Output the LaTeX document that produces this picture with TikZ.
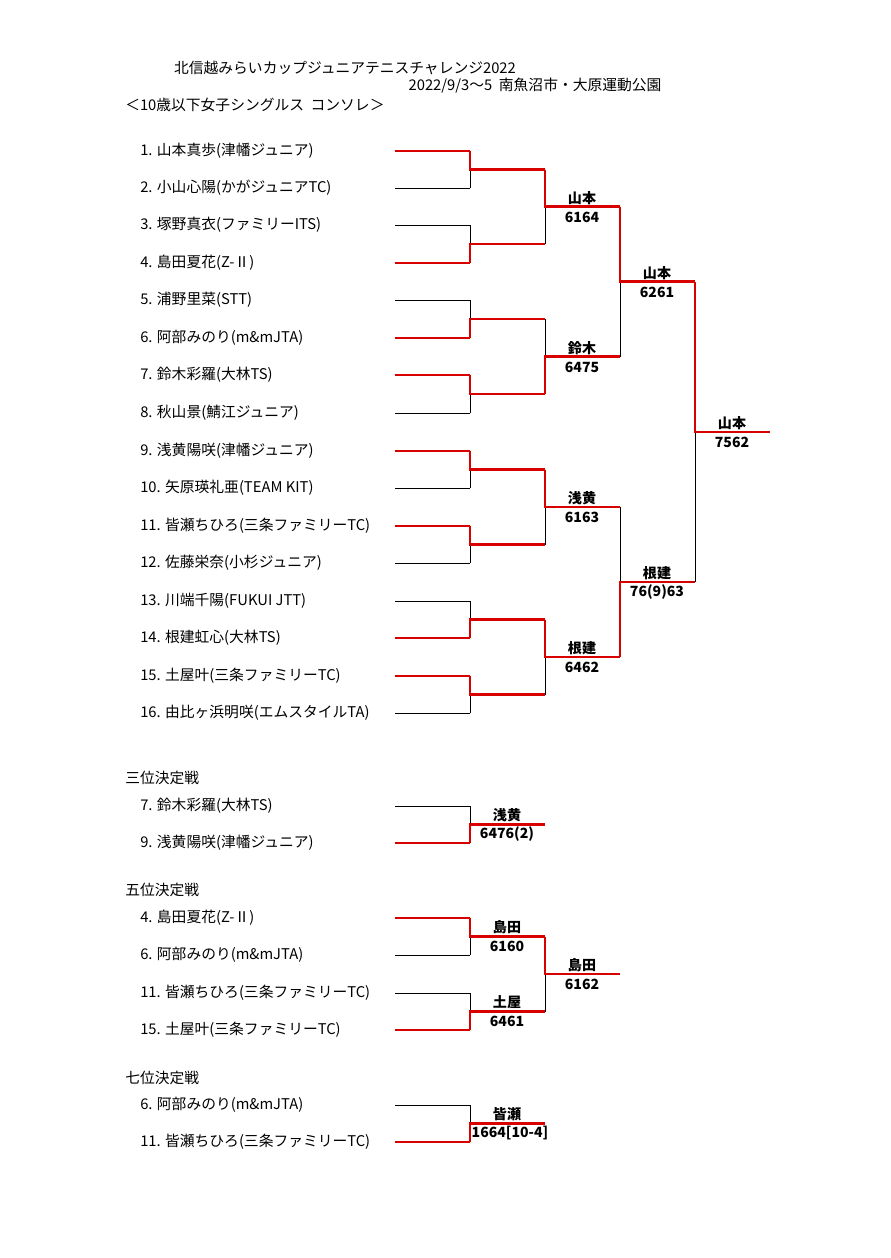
\documentclass[tikz,border=0pt]{standalone}
\usepackage{fontspec}
\setmainfont{Noto Sans CJK JP}
% \match{x}{y top}{y bottom}{y winner}
\newcommand{\match}[4]{%
  \draw[loser] (#1,#2) -- (#1,#3);
  \draw[winner] (#1,#4) -- (#1,{(#2+#3)/2}) -- ({#1+75},{(#2+#3)/2});}
\begin{document}
\begin{tikzpicture}[x=0.025cm,y=-0.025cm,
    loser/.style={black,line width=0.6pt},
    winner/.style={red!85!black,line width=1.9pt},
    player/.style={anchor=west,font=\fontsize{10.5}{12}\selectfont,inner sep=0pt},
    head/.style={font=\fontsize{10.5}{12}\selectfont,inner sep=0pt},
    res/.style={font=\bfseries\fontsize{10}{12}\selectfont,inner sep=0pt}]

  \useasboundingbox[fill=white] (0,0) rectangle (890,1258);

  % headings
  \node[head] (title) at (345,68) {北信越みらいカップジュニアテニスチャレンジ2022};
  \node[head] (date) at (535,86) {2022/9/3～5\ \ 南魚沼市・大原運動公園};
  \node[head,anchor=west] (event) at (125,105) {＜10歳以下女子シングルス\ \ コンソレ＞};

  % main draw players: y / name / winner flag
  \foreach \y/\n/\w in {151/{1. 山本真歩(津幡ジュニア)}/1, 188/{2. 小山心陽(かがジュニアTC)}/0,
      225/{3. 塚野真衣(ファミリーITS)}/0, 263/{4. 島田夏花(Z-Ⅱ)}/1,
      300/{5. 浦野里菜(STT)}/0, 338/{6. 阿部みのり(m\&mJTA)}/1,
      375/{7. 鈴木彩羅(大林TS)}/1, 413/{8. 秋山景(鯖江ジュニア)}/0,
      451/{9. 浅黄陽咲(津幡ジュニア)}/1, 488/{10. 矢原瑛礼亜(TEAM KIT)}/0,
      526/{11. 皆瀬ちひろ(三条ファミリーTC)}/1, 563/{12. 佐藤栄奈(小杉ジュニア)}/0,
      601/{13. 川端千陽(FUKUI JTT)}/0, 638/{14. 根建虹心(大林TS)}/1,
      676/{15. 土屋叶(三条ファミリーTC)}/1, 713/{16. 由比ヶ浜明咲(エムスタイルTA)}/0}
  {
    \node[player] (p\y) at (140,\y) {\n};
    \ifnum\w=1 \draw[winner] (395,\y) -- (470,\y); \else \draw[loser] (395,\y) -- (470,\y); \fi
  }

  % first round
  \match{470}{151}{188}{151}
  \match{470}{225}{263}{263}
  \match{470}{300}{338}{338}
  \match{470}{375}{413}{375}
  \match{470}{451}{488}{451}
  \match{470}{526}{563}{526}
  \match{470}{601}{638}{638}
  \match{470}{676}{713}{676}
  % second round
  \match{545}{169.5}{244}{169.5}
  \match{545}{319}{394}{394}
  \match{545}{469.5}{544.5}{469.5}
  \match{545}{619.5}{694.5}{619.5}
  % semi final and final
  \match{620}{206.75}{356.5}{206.75}
  \match{620}{507}{657}{657}
  \match{695}{281.9}{582}{281.9}

  \node[res] (r1) at (582,198) {山本};  \node[res] (s1) at (582,217) {6164};
  \node[res] (r2) at (582,348) {鈴木};  \node[res] (s2) at (582,367) {6475};
  \node[res] (r3) at (582,498) {浅黄};  \node[res] (s3) at (582,517) {6163};
  \node[res] (r4) at (582,648) {根建};  \node[res] (s4) at (582,667) {6462};
  \node[res] (r5) at (657,273) {山本};  \node[res] (s5) at (657,292) {6261};
  \node[res] (r6) at (657,573) {根建};  \node[res] (s6) at (657,592) {76(9)63};
  \node[res] (r7) at (732,423) {山本};  \node[res] (s7) at (732,442) {7562};

  % third place
  \node[head,anchor=west] (third) at (125,778) {三位決定戦};
  \node[player] (t1) at (140,806) {7. 鈴木彩羅(大林TS)};
  \node[player] (t2) at (140,843) {9. 浅黄陽咲(津幡ジュニア)};
  \draw[loser] (395,806) -- (470,806);
  \draw[winner] (395,843) -- (470,843);
  \match{470}{806}{843}{843}
  \node[res] (r8) at (507,815) {浅黄};  \node[res] (s8) at (507,834) {6476(2)};

  % fifth place
  \node[head,anchor=west] (fifth) at (125,890) {五位決定戦};
  \node[player] (f1) at (140,918) {4. 島田夏花(Z-Ⅱ)};
  \node[player] (f2) at (140,955) {6. 阿部みのり(m\&mJTA)};
  \node[player] (f3) at (140,993) {11. 皆瀬ちひろ(三条ファミリーTC)};
  \node[player] (f4) at (140,1030) {15. 土屋叶(三条ファミリーTC)};
  \draw[winner] (395,918) -- (470,918);
  \draw[loser] (395,955) -- (470,955);
  \draw[loser] (395,993) -- (470,993);
  \draw[winner] (395,1030) -- (470,1030);
  \match{470}{918}{955}{918}
  \match{470}{993}{1030}{1030}
  \match{545}{936.5}{1011.5}{936.5}
  \node[res] (r9) at (507,927) {島田};  \node[res] (s9) at (507,946) {6160};
  \node[res] (r10) at (507,1002) {土屋}; \node[res] (s10) at (507,1021) {6461};
  \node[res] (r11) at (582,965) {島田}; \node[res] (s11) at (582,984) {6162};

  % seventh place
  \node[head,anchor=west] (seventh) at (125,1078) {七位決定戦};
  \node[player] (g1) at (140,1105) {6. 阿部みのり(m\&mJTA)};
  \node[player] (g2) at (140,1142) {11. 皆瀬ちひろ(三条ファミリーTC)};
  \draw[loser] (395,1105) -- (470,1105);
  \draw[winner] (395,1142) -- (470,1142);
  \match{470}{1105}{1142}{1142}
  \node[res] (r12) at (507,1114) {皆瀬}; \node[res] (s12) at (510,1133) {1664[10-4]};

\end{tikzpicture}
\end{document}
